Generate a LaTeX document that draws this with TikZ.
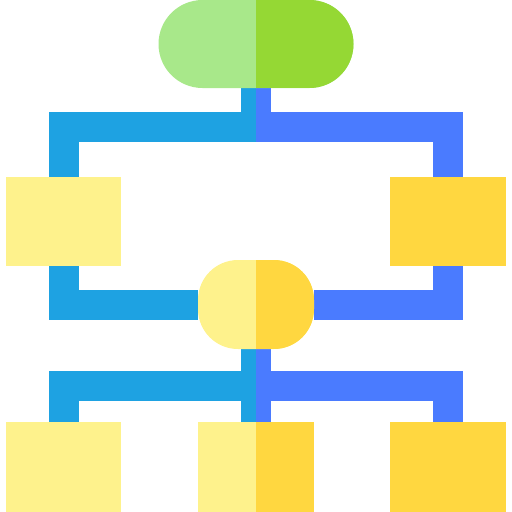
\documentclass[tikz,border=0pt]{standalone}
\usetikzlibrary{backgrounds}

\definecolor{greenLight}{HTML}{A8E88A}
\definecolor{greenDark}{HTML}{95D834}
\definecolor{blueLight}{HTML}{1EA2E2}
\definecolor{blueDark}{HTML}{4A7BFF}
\definecolor{yellowLight}{HTML}{FEF28C}
\definecolor{yellowDark}{HTML}{FFD740}

\tikzset{
	block/.style={inner sep=0pt, draw=none, minimum height=89pt},
	link/.style={line width=30pt},
	halfright/.style={path picture={\fill[#1, sharp corners] (path picture bounding box.north) rectangle (path picture bounding box.south east);}}
}

\begin{document}
\begin{tikzpicture}[x=1pt,y=-1pt]
		
		\useasboundingbox (0,0) rectangle (512,512);
		
		% Start
		\node [block,
		fill=greenLight,
		halfright=greenDark,
		rounded corners=44pt,
		minimum width=195pt,
		minimum height=88pt] (start) at (256,44){};
		
		% First level
		\node [block,
		fill=yellowLight,
		minimum width=115pt] (left) at (63.5,221.5){};
		
		\node [block,
		fill=yellowDark,
		minimum width=116pt] (right) at (448,221.5){};
		
		% Merge
		\node [block,
		fill=yellowLight,
		halfright=yellowDark,
		rounded corners=40pt,
		minimum width=116pt] (merge) at (256,304.5){};
		
		% Second level
		\node [block,
		fill=yellowLight,
		minimum width=115pt,
		minimum height=90pt] (outA) at (63.5,467){};
		
		\node [block,
		fill=yellowLight,
		halfright=yellowDark,
		minimum width=116pt,
		minimum height=90pt] (outB) at (256,467){};
		
		\node [block,
		fill=yellowDark,
		minimum width=116pt,
		minimum height=90pt] (outC) at (448,467){};
		
		% Links
		\begin{scope}[on background layer]
			\begin{scope}
				\clip (0,0) rectangle (256,512);
				\draw [link, blueLight] (start.south) -- ++(0,39) -| (left.north);
				\draw [link, blueLight] (merge.south) -- ++(0,37) -| (outA.north);
				\draw [link, blueLight] (merge.south) -- (outB.north);
			\end{scope}
			\begin{scope}
				\clip (256,0) rectangle (512,512);
				\draw [link, blueDark] (start.south) -- ++(0,39) -| (right.north);
				\draw [link, blueDark] (merge.south) -- ++(0,37) -| (outC.north);
				\draw [link, blueDark] (merge.south) -- (outB.north);
			\end{scope}
			\draw [link, blueLight] (left.south) |- (merge.west);
			\draw [link, blueDark] (right.south) |- (merge.east);
		\end{scope}
		
	\end{tikzpicture}
\end{document}
